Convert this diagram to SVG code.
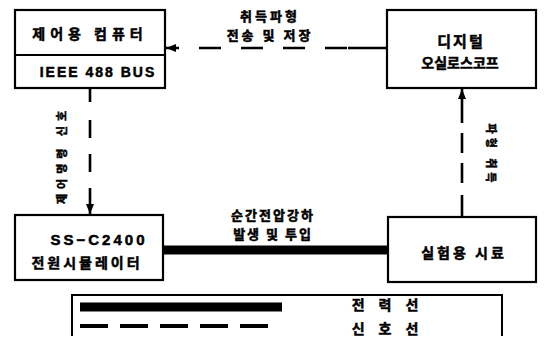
<svg xmlns="http://www.w3.org/2000/svg" width="545" height="337" viewBox="0 0 545 337">
<defs>
<style>
.box{fill:#fff;stroke:#000;stroke-width:2.2}
.t{font-family:"Noto Sans CJK KR","Liberation Sans",sans-serif;font-weight:bold;fill:#000;stroke:#000;stroke-width:0.5;text-anchor:middle;dominant-baseline:central}
.sig{fill:none;stroke:#000;stroke-width:2.6}
.pow{fill:none;stroke:#000;stroke-width:9}
</style>
<marker id="ah" viewBox="0 0 10 10" refX="10" refY="5" markerWidth="10" markerHeight="10" markerUnits="userSpaceOnUse" orient="auto">
<path d="M0,1 L10,5 L0,9 Z" fill="#000"/>
</marker>
</defs>
<rect width="545" height="337" fill="#fff"/>

<g id="connectors">
<path class="sig" d="M387,48 L348,48" />
<path class="sig" d="M347,48 L166,48" stroke-dasharray="22,20" marker-end="url(#ah)"/>
<path class="sig" d="M90,88 L90,214" stroke-dasharray="14,18,18,16,18,16,30" marker-end="url(#ah)"/>
<path class="sig" d="M462,217 L462,89" stroke-dasharray="22,12,20,10,20,10,40" marker-end="url(#ah)"/>
<path class="pow" d="M164,250 L388,250"/>
<text class="t" x="270" y="15" font-size="13" letter-spacing="3">취득파형</text>
<text class="t" x="270" y="34" font-size="13" letter-spacing="3">전송 및 저장</text>
<text class="t" x="273" y="214" font-size="13" letter-spacing="2">순간전압강하</text>
<text class="t" x="273" y="233" font-size="13" letter-spacing="2">발생 및 투입</text>
<text class="t" font-size="11" letter-spacing="5" transform="translate(61,155) rotate(-90)">제어명령 신호</text>
<text class="t" font-size="11" letter-spacing="4" transform="translate(492,155) rotate(90)">파형 취득</text>
</g>

<g id="computer">
<rect class="box" x="15" y="10" width="150" height="78"/>
<line x1="15" y1="55" x2="165" y2="55" stroke="#000" stroke-width="2.2"/>
<text class="t" x="90" y="33" font-size="14" letter-spacing="5">제어용 컴퓨터</text>
<text class="t" x="98" y="72" font-size="14" letter-spacing="2" style="font-family:'Liberation Sans',sans-serif">IEEE 488 BUS</text>
</g>

<g id="oscilloscope">
<rect class="box" x="387" y="10" width="149" height="78"/>
<text class="t" x="461" y="40" font-size="15" letter-spacing="2">디지털</text>
<text class="t" x="460" y="62" font-size="14" letter-spacing="0">오실로스코프</text>
</g>

<g id="simulator">
<rect class="box" x="15" y="215" width="148" height="65"/>
<text class="t" x="99" y="239" font-size="15" letter-spacing="3" style="font-family:'Liberation Sans',sans-serif">SS−C2400</text>
<text class="t" x="87" y="262" font-size="14" letter-spacing="3">전원시뮬레이터</text>
</g>

<g id="sample">
<rect class="box" x="388" y="217" width="148" height="65"/>
<text class="t" x="464" y="252" font-size="14" letter-spacing="3">실험용 시료</text>
</g>

<g id="legend">
<path d="M72,336 L72,295 L502,295 L502,336" fill="none" stroke="#000" stroke-width="2"/>
<line x1="80" y1="307" x2="282" y2="307" stroke="#000" stroke-width="9"/>
<line x1="80" y1="326" x2="272" y2="326" stroke="#000" stroke-width="4" stroke-dasharray="28,12"/>
<text class="t" x="392" y="304" font-size="14" letter-spacing="14">전력선</text>
<text class="t" x="392" y="328" font-size="14" letter-spacing="14">신호선</text>
</g>
</svg>
